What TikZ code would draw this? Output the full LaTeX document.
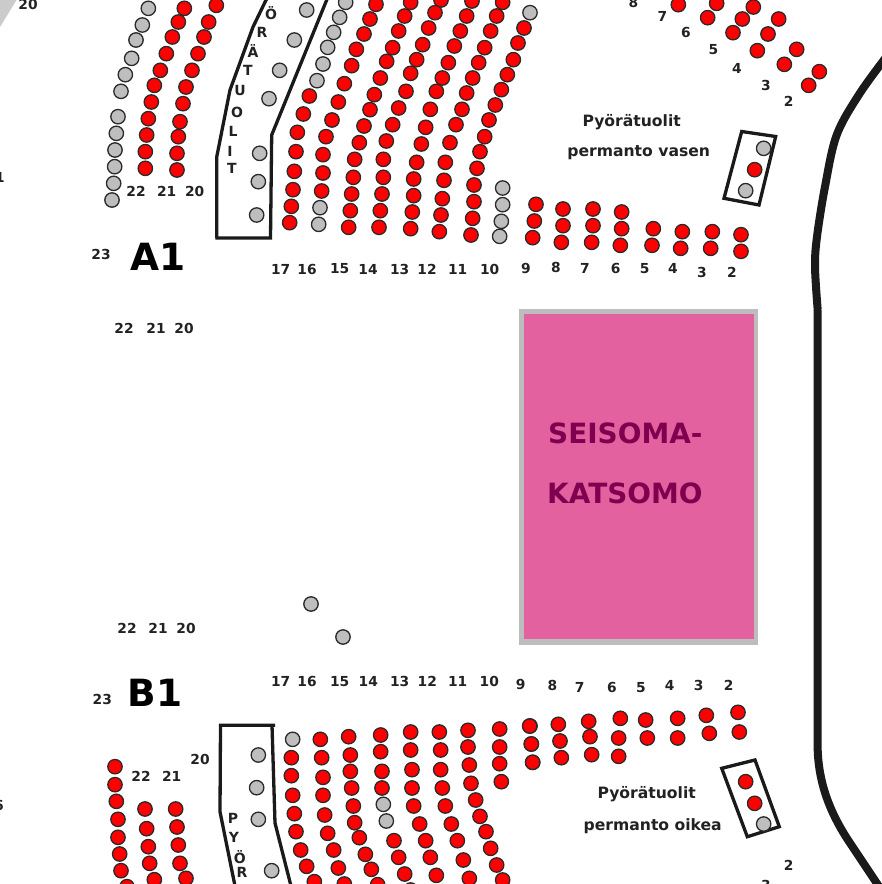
\documentclass[tikz,border=0pt]{standalone}
\usepackage{fontspec}
\setmainfont{DejaVu Sans}
\definecolor{wall}{HTML}{1A1A1A}
\definecolor{seatred}{HTML}{FF0000}
\definecolor{seatgrey}{HTML}{BEBEBE}
\definecolor{seatedge}{HTML}{2A2A2A}
\definecolor{stagepink}{HTML}{E3619F}
\definecolor{stageedge}{HTML}{BDBDBD}
\definecolor{stagetext}{HTML}{800050}
\definecolor{labeltext}{HTML}{222222}
\tikzset{
  redseat/.style={fill=seatred,draw=seatedge,line width=1.3pt},
  greyseat/.style={fill=seatgrey,draw=seatedge,line width=1.3pt},
  outline/.style={draw=wall,line width=3.3pt,line join=miter},
  wallline/.style={draw=wall,line width=8pt,line join=round},
  rownum/.style={font=\fontsize{13.8}{15}\selectfont\bfseries,text=labeltext,inner sep=0pt},
  blocklabel/.style={font=\fontsize{37.5}{40}\selectfont\bfseries,text=black,inner sep=0pt},
  vertletter/.style={font=\fontsize{14}{14}\selectfont\bfseries,text=labeltext,inner sep=0pt},
  caption/.style={font=\fontsize{15.6}{15}\selectfont\bfseries,text=labeltext,inner sep=0pt},
  stagelabel/.style={font=\fontsize{27.9}{28}\selectfont\bfseries,text=stagetext,inner sep=0pt,anchor=west},
  zoomed/.style={x=0.33333pt,y=-0.33333pt}
}
\newcommand{\seatlist}[2]{\foreach \p in {#2} \path[#1] \p circle[radius=7.2pt];}
\begin{document}
\begin{tikzpicture}[x=1pt,y=-1pt]
\useasboundingbox (0,0) rectangle (882,884);
\clip (0,0) rectangle (882,884);
\fill[white] (0,0) rectangle (882,884);
% corner wedge
\fill[seatgrey!80!white] (0,0) -- (16.5,0) -- (0,27) -- cycle;
% stage
\fill[stageedge] (518.5,308.5) rectangle (757.5,645);
\fill[stagepink] (524,313.5) rectangle (753.5,639);
\node[stagelabel] (seisoma) at (548,433) {SEISOMA-};
\node[stagelabel] (katsomo) at (547,493) {KATSOMO};
% hall wall
\draw[wallline] plot[smooth,tension=0.55] coordinates {(890,52) (860,93) (836.7,135) (825,186.7) (817,236.7) (815,266.7) (817.7,310)};
\draw[wallline] (817.7,310) -- (817.7,750) .. controls (819,790) and (835,820) .. (848,840) -- (880,888);
% wheelchair blocks
\draw[outline] (215.3,238) -- (270.5,238) -- (271.7,135) -- (327.5,-2);
\draw[outline] (216.7,238) -- (216.7,157) -- (230,90) -- (253,27) -- (267,-2);
\draw[outline] (275,725.3) -- (220.5,725.3) -- (220,811.7) -- (235,886);
\draw[outline] (272,725.3) -- (275,823) -- (291,886);
\draw[outline] (741.7,131.5) -- (775.7,136.5) -- (759,205) -- (724,198.3) -- cycle;
\draw[outline] (721.7,768.3) -- (755,760) -- (779.3,826.7) -- (747.3,836.7) -- cycle;
% loose seats
\seatlist{greyseat}{(311,604),(343,637)}
% upper left part (zoom scale, origin 90,0)
\begin{scope}[shift={(90,0)},zoomed]
\seatlist{greyseat}{(175,25),(157,75),(138,120),(125,175),(106,224),(93,274),(84,350),(79,400),(75,450),(74,500),(71,550),(66,600)}
\seatlist{redseat}{(283,25),(265,66),(247,111),(229,161),(211,211),(193,256),(184,306),(175,356),(170,405),(166,455),(166,505)}
\seatlist{redseat}{(379,16),(356,66),(342,111),(324,161),(306,211),(288,261),(279,311),(270,365),(265,410),(261,460),(261,510)}
\seatlist{greyseat}{(509,460),(505,545),(500,645),(537,296),(569,211),(613,120),(650,30)}
\end{scope}
% upper centre
\begin{scope}[shift={(270,0)},zoomed]
\seatlist{greyseat}{(227,7),(209,52),(191,97),(173,142),(159,192),(141,242)}
\seatlist{redseat}{(118,288),(100,342),(82,397),(78,455),(73,514),(69,569),(64,619),(59,668)}
\seatlist{redseat}{(318,13),(300,57),(282,102),(259,148),(245,197),(223,251),(205,306),(186,360),(168,410),(159,464),(159,519),(155,573)}
\seatlist{greyseat}{(150,623),(146,673)}
\seatlist{redseat}{(422,7),(404,48),(386,93),(368,143),(350,184),(331,234),(313,284),(300,329),(282,378),(268,428),(254,478),(250,532),(245,582),(241,632),(236,682)}
\seatlist{redseat}{(513,0),(495,38),(476,84),(458,134),(440,179),(422,220),(408,274),(386,324),(368,374),(349,423),(340,478),(340,532),(336,582),(331,632),(327,682)}
\seatlist{redseat}{(606,3),(590,48),(571,93),(553,138),(535,188),(517,234),(499,274),(481,328),(467,382),(454,432),(440,487),(431,537),(431,587),(427,636),(422,686)}
\seatlist{redseat}{(698,7),(680,48),(662,93),(644,143),(626,188),(608,234),(590,279),(576,328),(558,374),(540,428),(526,487),(522,541),(517,596),(513,645),(508,695)}
\seatlist{greyseat}{(780,38)}
\seatlist{redseat}{(762,84),(744,129),(730,179),(712,224),(694,269),(676,315),(657,360),(644,410),(630,455),(621,505),(612,555),(612,605),(608,655),(603,705)}
\seatlist{greyseat}{(698,564),(698,614),(694,664),(689,709)}
\end{scope}
% upper right
\begin{scope}[shift={(500,0)},zoomed]
\seatlist{redseat}{(108,613),(103,663),(98,713),(189,627),(189,677),(184,727),(279,627),(279,677),(275,727),(365,636),(365,686),(361,736),(460,686),(456,736),(547,695),(542,745),(637,695),(632,745),(723,704),(723,754)}
\seatlist{redseat}{(535,14),(623,53),(650,10),(727,57),(699,98),(760,21),(836,57),(804,102),(772,152),(890,148),(853,193),(958,215),(926,256)}
\seatlist{greyseat}{(791,445),(737,572)}
\seatlist{redseat}{(764,509)}
\end{scope}
% lower left
\begin{scope}[shift={(90,660)},zoomed]
\seatlist{redseat}{(75,320),(75,374),(79,424),(84,478),(84,532),(89,582),(93,632),(111,680)}
\seatlist{redseat}{(165,447),(170,506),(175,560),(179,610),(193,659)}
\seatlist{redseat}{(257,447),(261,501),(265,555),(270,610),(288,655)}
\seatlist{greyseat}{(505,285),(500,383),(505,478),(545,632)}
\end{scope}
% lower centre
\begin{scope}[shift={(280,660)},zoomed]
\seatlist{greyseat}{(38,238)}
\seatlist{redseat}{(34,293),(34,347),(38,406),(43,461),(48,515),(62,570),(80,619),(103,665)}
\seatlist{redseat}{(121,238),(125,293),(129,352),(129,406),(134,465),(143,520),(161,570),(175,624),(193,672)}
\seatlist{redseat}{(206,230),(211,285),(211,334),(215,384),(220,438),(224,488),(238,533),(256,583),(274,628),(293,674)}
\seatlist{redseat}{(302,225),(302,275),(306,334),(306,384)}
\seatlist{greyseat}{(310,433),(319,483)}
\seatlist{redseat}{(342,542),(356,592),(374,642),(392,690)}
\seatlist{redseat}{(392,216),(392,270),(396,329),(396,384),(401,438),(419,492),(437,542),(451,592),(469,646),(487,695)}
\seatlist{redseat}{(478,216),(482,270),(482,329),(487,384),(496,438),(514,492),(532,542),(550,600),(568,655)}
\seatlist{redseat}{(564,211),(564,261),(568,315),(573,370),(587,420),(600,469),(618,515),(632,565),(650,615),(668,660)}
\seatlist{redseat}{(659,207),(659,261),(659,311),(664,365),(750,198),(754,252),(758,307)}
\end{scope}
% lower right
\begin{scope}[shift={(500,660)},zoomed]
\seatlist{redseat}{(89,198),(94,252),(98,307),(175,193),(180,243),(184,293),(266,184),(270,230),(275,284),(361,175),(356,234),(356,289),(437,180),(442,234),(533,175),(533,234),(619,166),(628,220),(714,157),(718,216)}
\seatlist{redseat}{(737,365),(764,430)}
\seatlist{greyseat}{(791,492)}
\end{scope}
% block labels
\node[blocklabel] (blocka) at (157.7,257) {A1};
\node[blocklabel] (blockb) at (155,693) {B1};
% vertical lettering
\foreach \nm/\t/\x/\y in {a/Ö/271/13,b/R/262/32,c/Ä/253/51,d/T/248/70,e/U/240/90,f/O/237/112,g/L/233/131,h/I/230/151,i/T/232/168,j/P/233/818,k/Y/234/837,l/Ö/239.7/857,m/R/242/872}
  \node[vertletter] (v\nm) at (\x,\y) {\t};
% row numbers, upper
\foreach \t/\x/\y in {22/136/191.7,21/166.7/191.7,20/194.7/191.7,23/101/254,17/280.7/269,16/307/269,15/339.7/269,14/368/269,13/399.7/269,12/427/269,11/457.7/269,10/489.7/269,9/526/268,8/556/267,7/585/268,6/615.7/268.7,5/644.7/268.7,4/673/268,3/702/272,2/732/272,
  8/633.3/2.5,7/662.3/16.7,6/686/32.7,5/713.3/50,4/737/68,3/766/85.7,2/788.7/101.3,20/28/4}
  \node[rownum] at (\x,\y) {\t};
% row numbers, middle and lower
\foreach \t/\x/\y in {22/124/328,21/156/328,20/184/328,22/127/628,21/158/628,20/186/628,23/102.3/699.3,17/280.7/681.7,16/307/681.7,15/339.7/681.7,14/368.3/681.7,13/399.7/681.7,12/427.3/681.7,11/457.7/681.7,10/489.3/681.7,9/520.7/684,8/552.3/685,7/579.7/687.7,6/612/687.7,5/641/687.7,4/669.7/685,3/698.7/685,2/728.7/685,20/200/759,22/141/776.7,21/171.7/776.7,2/788.7/865.7,3/766/885}
  \node[rownum] at (\x,\y) {\t};
\node[rownum,anchor=east] (edgea) at (5,177) {21};
\node[rownum,anchor=east] (edgeb) at (4,805) {16};
% captions
\node[caption] (capa) at (631.7,121.7) {Pyörätuolit};
\node[caption] (capb) at (638.7,153) {permanto vasen};
\node[caption] (capc) at (646.7,794) {Pyörätuolit};
\node[caption] (capd) at (652.7,825.7) {permanto oikea};
\end{tikzpicture}
\end{document}
